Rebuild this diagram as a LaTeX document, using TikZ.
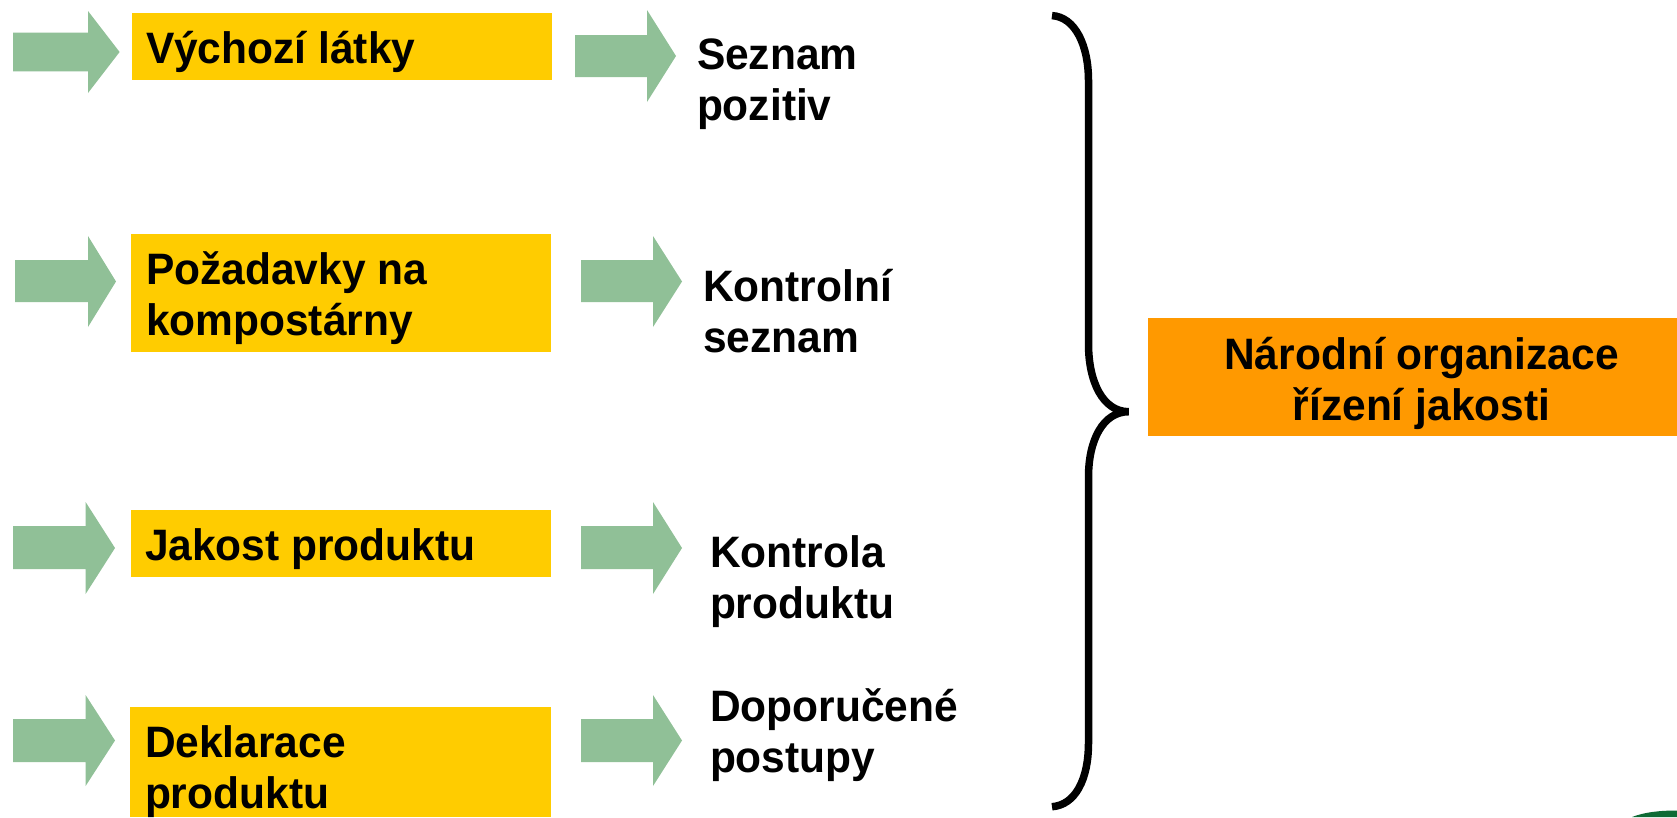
\documentclass[tikz,border=0pt]{standalone}
\usepackage{fontspec}
\setmainfont[FakeStretch=0.966]{Liberation Sans}
\definecolor{boxyellow}{HTML}{FFCC00}
\definecolor{boxorange}{HTML}{FF9900}
\definecolor{arrowgreen}{HTML}{90C097}
\definecolor{logogreen}{HTML}{0E6B35}
\newcommand{\blockarrow}[8]{% name, x0, x1, x2, head top, shaft top, shaft bottom, head bottom
  \path[fill=arrowgreen] (#2,#6) -- (#3,#6) -- (#3,#5) -- (#4,{(#5+#8)/2}) -- (#3,#8) -- (#3,#7) -- (#2,#7) -- cycle;
  \coordinate (#1) at (#4,{(#5+#8)/2});
}
\tikzset{
  x=1pt,y=-1pt,
  plainbox/.style={inner sep=0pt,outer sep=0pt,draw=none,fill=boxyellow},
  label text/.style={anchor=base west,inner sep=0pt,outer sep=0pt,align=left,font=\fontsize{44}{51}\selectfont\bfseries},
}
\begin{document}
\begin{tikzpicture}
\useasboundingbox (0,0) rectangle (1677,817);
\clip (0,0) rectangle (1677,817);
\fill[white] (0,0) rectangle (1677,817);
% boxes
\node[plainbox,minimum width=420pt,minimum height=67pt] (b1) at (342,46.5) {};
\node[plainbox,minimum width=420pt,minimum height=118pt] (b2) at (341,293) {};
\node[plainbox,minimum width=420pt,minimum height=67pt] (b3) at (341,543.5) {};
\node[plainbox,minimum width=421pt,minimum height=110pt] (b4) at (340.5,762) {};
\node[plainbox,fill=boxorange,minimum width=529pt,minimum height=117.6pt] (org) at (1412.5,376.8) {};
% arrows
\blockarrow{a1}{13}{88}{119.6}{11}{32.7}{71.3}{93}
\blockarrow{a1b}{575}{647}{676}{10}{35}{77}{102}
\blockarrow{a2}{15}{88}{116}{236}{260}{302}{327}
\blockarrow{a2b}{581}{653}{682}{236}{260}{302}{327}
\blockarrow{a3}{13}{85.6}{115}{502}{526}{569}{594}
\blockarrow{a3b}{581}{653}{682}{502}{526}{569}{594}
\blockarrow{a4}{13}{85.6}{115}{695}{719}{762}{786}
\blockarrow{a4b}{581}{653}{682}{695}{719}{762}{786}
% texts
\node[label text] (t1) at (146,63.5) {Výchozí látky};
\node[label text] (t2) at (146,335.5) {Požadavky na\\kompostárny};
\node[label text] (t3) at (145,560.5) {Jakost produktu};
\node[label text] (t4) at (145,808.5) {Deklarace\\produktu};
\node[label text] (r1) at (697,120.5) {Seznam\\pozitiv};
\node[label text] (r2) at (703,352.5) {Kontrolní\\seznam};
\node[label text] (r3) at (710,618.5) {Kontrola\\produktu};
\node[label text] (r4) at (710,772.5) {Doporučené\\postupy};
\node[label text,anchor=base,align=center] (o1) at (1421.5,420) {Národní organizace\\řízení jakosti};
% brace
\draw[black,line width=7.5pt]
  (1052,15.6) .. controls (1075,17) and (1088.5,45) .. (1088.5,81)
  -- (1088.5,344) .. controls (1088.5,382) and (1103,411.7) .. (1128.7,411.7)
  .. controls (1103,411.7) and (1088.5,440) .. (1088.5,477)
  -- (1088.5,742.6) .. controls (1088.5,780) and (1075,805) .. (1052,806.7);
% logo fragment in the corner
\fill[logogreen] (1632,817) .. controls (1645,812) and (1660,810.5) .. (1677,810.5) -- (1677,817) -- cycle;
\end{tikzpicture}
\end{document}
